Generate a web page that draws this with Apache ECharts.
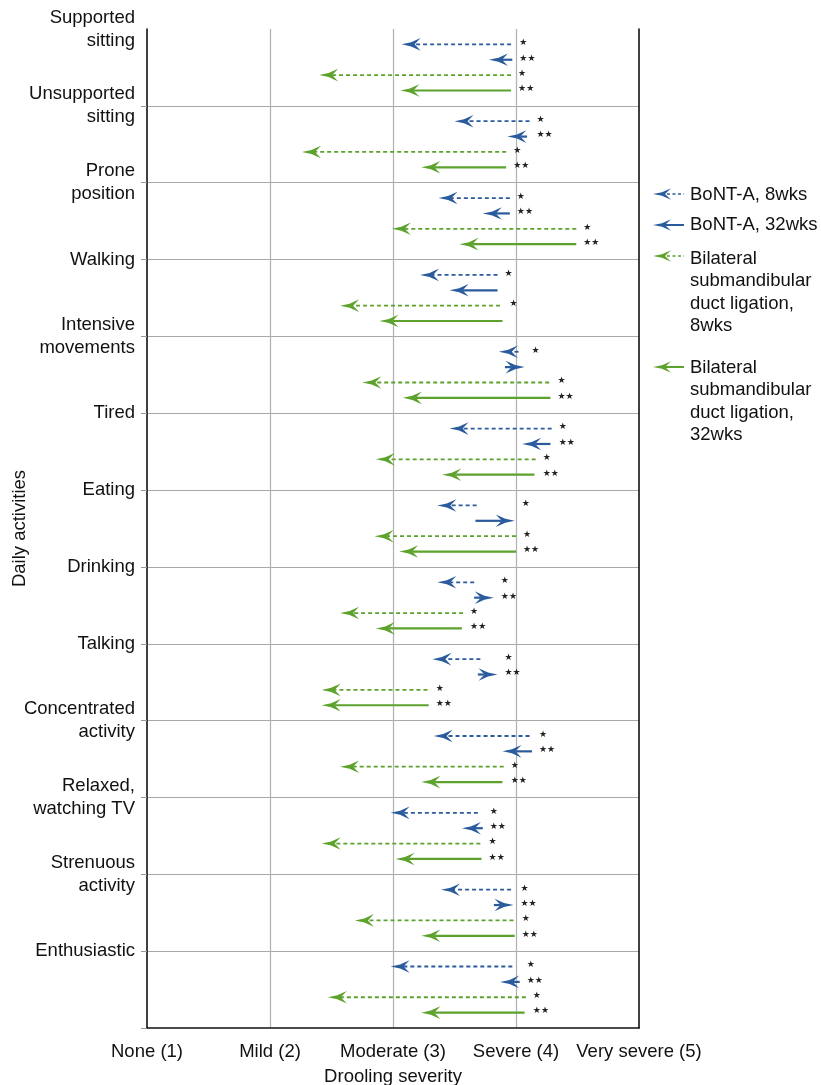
<!DOCTYPE html>
<html><head><meta charset="utf-8">
<script src="https://cdn.jsdelivr.net/npm/echarts@6/dist/echarts.min.js"></script>
<style>html,body{margin:0;padding:0;background:#fff}#c{width:821px;height:1085px}</style>
</head><body><div id="c"></div>
<script>
// ---------- data ----------
const categories = ['Supported\nsitting','Unsupported\nsitting','Prone\nposition','Walking','Intensive\nmovements','Tired','Eating','Drinking','Talking','Concentrated\nactivity','Relaxed,\nwatching TV','Strenuous\nactivity','Enthusiastic'];
const xTickLabels = ['None (1)','Mild (2)','Moderate (3)','Severe (4)','Very severe (5)'];
const seriesNames = ['BoNT-A, 8wks','BoNT-A, 32wks','Bilateral submandibular duct ligation, 8wks','Bilateral submandibular duct ligation, 32wks'];

const bont8Start  = [3.96, 4.11, 3.95, 3.85, 4.02, 4.29, 3.68, 3.66, 3.71, 4.11, 3.69, 3.96, 3.97];
const bont8End    = [3.07, 3.50, 3.37, 3.22, 3.86, 3.46, 3.36, 3.36, 3.32, 3.33, 2.98, 3.39, 2.98];
const bont32Start = [3.97, 4.09, 3.95, 3.85, 3.91, 4.28, 3.67, 3.66, 3.69, 4.13, 3.73, 3.82, 4.03];
const bont32End   = [3.78, 3.93, 3.73, 3.46, 4.07, 4.05, 3.99, 3.82, 3.85, 3.89, 3.56, 3.98, 3.87];
const bsdl8Start  = [3.96, 3.92, 4.49, 3.87, 4.27, 4.16, 4.00, 3.57, 3.28, 3.90, 3.71, 3.98, 4.08];
const bsdl8End    = [2.40, 2.26, 2.99, 2.57, 2.75, 2.86, 2.85, 2.57, 2.42, 2.57, 2.42, 2.69, 2.47];
const bsdl32Start = [3.96, 3.92, 4.49, 3.89, 4.28, 4.15, 4.00, 3.56, 3.29, 3.89, 3.72, 3.99, 4.07];
const bsdl32End   = [3.06, 3.23, 3.54, 2.89, 3.08, 3.40, 3.05, 2.86, 2.42, 3.23, 3.02, 3.23, 3.23];

const bont8Stars  = ['*','*','*','*','*','*','*','*','*','*','*','*','*'];
const bont32Stars = ['**','**','**','','','**','','**','**','**','**','**','**'];
const bsdl8Stars  = ['*','*','*','*','*','*','*','*','*','*','*','*','*'];
const bsdl32Stars = ['**','**','**','','**','**','**','**','**','**','**','**','**'];

// ---------- styling ----------
const FONT = '"Liberation Sans", Arial, Helvetica, sans-serif';
const FS = 18.5;
const BLUE = '#2a5b9c', GREEN = '#5ca22c';
const BAND = 5; // each category spans 5 units on the y value axis

const defs = [
  {name: seriesNames[0], start: bont8Start,  end: bont8End,  stars: bont8Stars,  color: BLUE,  dashed: true,  slot: 1, group: 0},
  {name: seriesNames[1], start: bont32Start, end: bont32End, stars: bont32Stars, color: BLUE,  dashed: false, slot: 2, group: 0},
  {name: seriesNames[2], start: bsdl8Start,  end: bsdl8End,  stars: bsdl8Stars,  color: GREEN, dashed: true,  slot: 3, group: 1},
  {name: seriesNames[3], start: bsdl32Start, end: bsdl32End, stars: bsdl32Stars, color: GREEN, dashed: false, slot: 4, group: 1}
];

function headPoints(tx, ty, dir, L, H, N) {
  const b = -dir;
  return [[tx, ty], [tx + b*L*0.5, ty - H*0.32], [tx + b*L, ty - H], [tx + b*N, ty],
          [tx + b*L, ty + H], [tx + b*L*0.5, ty + H*0.32]];
}

function makeRender(def) {
  return function (params, api) {
    const s = api.value(0), e = api.value(1), y = api.value(2), i = api.value(3);
    const p0 = api.coord([s, y]), p1 = api.coord([e, y]);
    const dir = p1[0] >= p0[0] ? 1 : -1;
    const L = 19, H = 6.3, N = 13;
    const children = [];
    if (Math.abs(p1[0] - p0[0]) > N) {
      children.push({type: 'line',
        shape: {x1: p0[0], y1: p0[1], x2: p1[0] - dir*N, y2: p1[1]},
        style: {stroke: def.color, lineWidth: def.dashed ? 1.8 : 2.2, lineDash: def.dashed ? [4, 3] : null}});
    }
    children.push({type: 'polygon', shape: {points: headPoints(p1[0], p1[1], dir, L, H, N)}, style: {fill: def.color}});
    const st = def.stars[i];
    if (st) {
      let mx = -Infinity;
      defs.filter(d => d.group === def.group).forEach(d => { mx = Math.max(mx, d.start[i], d.end[i]); });
      const sx = api.coord([mx, y])[0] + 7;
      children.push({type: 'text', x: sx, y: p0[1] - 1.5,
        style: {text: st.replace(/\*/g, '\u2605'), fill: '#222', font: '9px "DejaVu Sans"', align: 'left', verticalAlign: 'middle'}});
    }
    return {type: 'group', children};
  };
}

const series = defs.map(def => ({
  name: def.name,
  type: 'custom',
  coordinateSystem: 'cartesian2d',
  clip: false,
  renderItem: makeRender(def),
  encode: {x: [0, 1], y: 2},
  data: categories.map((c, i) => [def.start[i], def.end[i], i*BAND + def.slot, i])
}));

// legend drawn as graphic (icon aligned with the first text line)
const legendItems = [
  {def: defs[0], iconY: 194, textTop: 184, text: 'BoNT-A, 8wks'},
  {def: defs[1], iconY: 225, textTop: 214, text: 'BoNT-A, 32wks'},
  {def: defs[2], iconY: 256, textTop: 247.5, text: 'Bilateral\nsubmandibular\nduct ligation,\n8wks'},
  {def: defs[3], iconY: 367, textTop: 356.5, text: 'Bilateral\nsubmandibular\nduct ligation,\n32wks'}
];
const graphic = [];
legendItems.forEach(it => {
  const d = it.def;
  graphic.push({type: 'line', shape: {x1: d.dashed ? 667 : 664, y1: it.iconY, x2: 684, y2: it.iconY},
    style: {stroke: d.color, lineWidth: d.dashed ? 1.6 : 2, lineDash: d.dashed ? [3, 2.5] : null}});
  graphic.push({type: 'polygon', shape: {points: headPoints(653, it.iconY, -1, 18, 5.8, 12)}, style: {fill: d.color}});
  graphic.push({type: 'text', x: 690, y: it.textTop,
    style: {text: it.text, font: FS + 'px ' + FONT, fill: '#111', lineHeight: 22.5, verticalAlign: 'top', align: 'left'}});
});

const tickVals = [];
for (let i = 1; i <= categories.length; i++) tickVals.push(i*BAND);

const chart = echarts.init(document.getElementById('c'), null, {renderer: 'canvas'});
chart.setOption({
  animation: false,
  backgroundColor: '#fff',
  textStyle: {fontFamily: FONT},
  grid: {left: 147, right: 182, top: 29, bottom: 57, containLabel: false, outerBoundsMode: 'none'},
  xAxis: {
    type: 'value', min: 1, max: 5, interval: 1,
    name: 'Drooling severity', nameLocation: 'middle', nameGap: 39, nameMoveOverlap: false,
    nameTextStyle: {fontSize: FS, color: '#111', fontFamily: FONT},
    axisLine: {show: true, onZero: false, lineStyle: {color: '#111', width: 1.6}},
    axisTick: {show: false},
    axisLabel: {fontSize: FS, color: '#111', margin: 14, fontFamily: FONT, formatter: v => xTickLabels[Math.round(v) - 1] || ''},
    splitLine: {show: true, showMinLine: false, showMaxLine: false, lineStyle: {color: '#b0b0b0', width: 1.2}}
  },
  yAxis: [{
    type: 'value', inverse: true, min: 0, max: categories.length*BAND, interval: BAND,
    name: 'Daily activities', nameLocation: 'middle', nameGap: 118, nameRotate: 90, nameMoveOverlap: false,
    nameTextStyle: {fontSize: FS, color: '#111', fontFamily: FONT},
    axisLine: {show: true, lineStyle: {color: '#111', width: 1.6}},
    axisTick: {show: true, inside: false, length: 6, lineStyle: {color: '#999'}, customValues: tickVals},
    axisLabel: {fontSize: FS, color: '#111', lineHeight: 23, margin: 12, fontFamily: FONT, align: 'right', padding: [4, 0, 0, 0],
      formatter: v => (v % BAND === 0 && v/BAND < categories.length) ? categories[v/BAND] : ''},
    splitLine: {show: true, showMinLine: true, showMaxLine: false, lineStyle: {color: '#aaa', width: 1}}
  }, {
    type: 'value', inverse: true, min: 0, max: categories.length*BAND, position: 'right',
    axisLine: {show: true, lineStyle: {color: '#111', width: 1.6}},
    axisTick: {show: false}, axisLabel: {show: false}, splitLine: {show: false}
  }],
  graphic: graphic,
  series: series
});
</script></body></html>
